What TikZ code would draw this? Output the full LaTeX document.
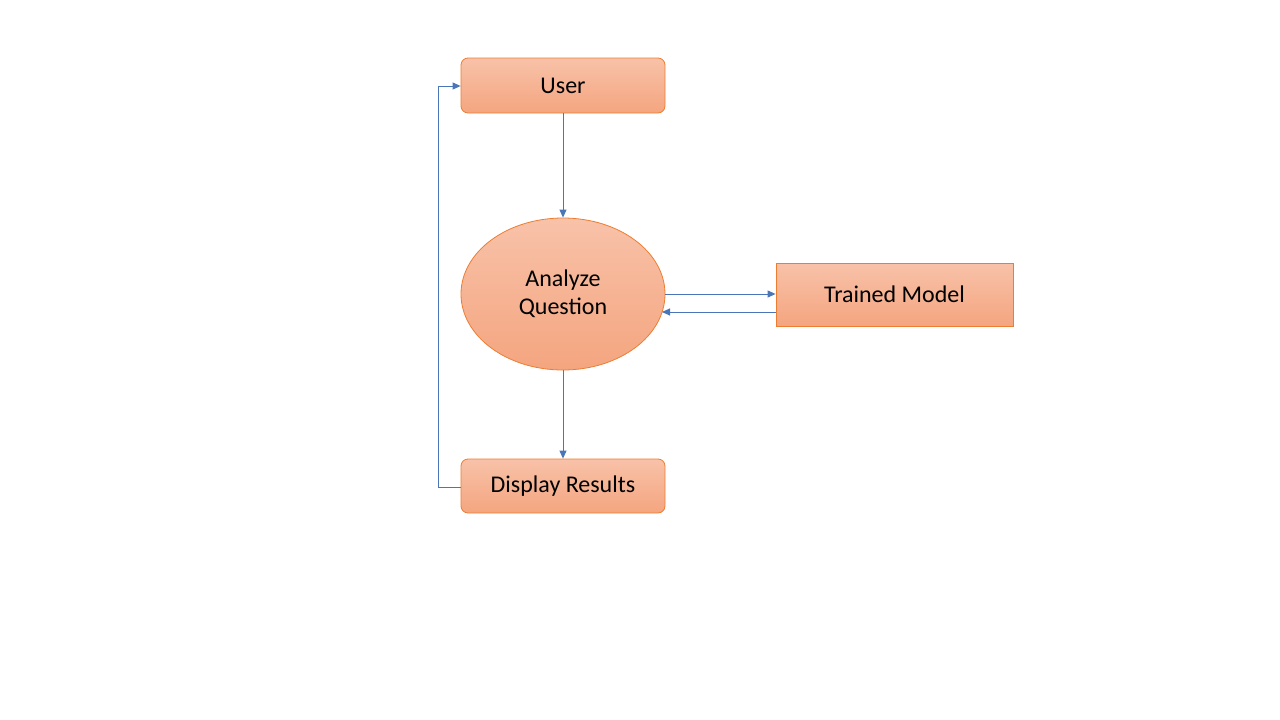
\documentclass[tikz,border=0pt]{standalone}
\usepackage{fontspec}
\setmainfont{Carlito}
\usetikzlibrary{arrows.meta,shapes.geometric}
\definecolor{fillTop}{HTML}{F8C2A9}
\definecolor{fillBot}{HTML}{F4A57F}
\definecolor{edgeC}{HTML}{ED7D31}
\definecolor{arrC}{HTML}{4A76B8}
\tikzset{
  box/.style={draw=edgeC, line width=0.8pt, top color=fillTop, bottom color=fillBot, font=\fontsize{24}{28}\selectfont, inner sep=0pt},
  rbox/.style={box, rounded corners=7pt},
  conn/.style={draw=arrC, line width=1pt, -{Triangle[length=8pt,width=7pt]}}
}
\begin{document}
\begin{tikzpicture}[x=1pt,y=-1pt]
\useasboundingbox (0,0) rectangle (1280,720);
\node[rbox, minimum width=204pt, minimum height=55pt] (user) at (563,85.5) {User};
\node[box, ellipse, minimum width=204pt, minimum height=152pt, align=center] (analyze) at (563,294) {Analyze\\Question};
\node[box, minimum width=237pt, minimum height=63pt] (model) at (894.5,294.5) {Trained Model};
\node[rbox, minimum width=204pt, minimum height=54pt] (display) at (563,486) {Display Results};
\coordinate (fbB) at (438,487);
\coordinate (fbT) at (438,86);
\draw[conn] (user.south) -- (analyze.north);
\draw[conn] (analyze.south) -- (display.north);
\draw[conn] (analyze.east |- 0,294) -- (model.west |- 0,294);
\draw[conn] (model.west |- 0,312) -- (662,312);
\draw[conn] (display.west |- fbB) -- (fbB) -- (fbT) -- (user.west |- fbT);
\end{tikzpicture}
\end{document}
